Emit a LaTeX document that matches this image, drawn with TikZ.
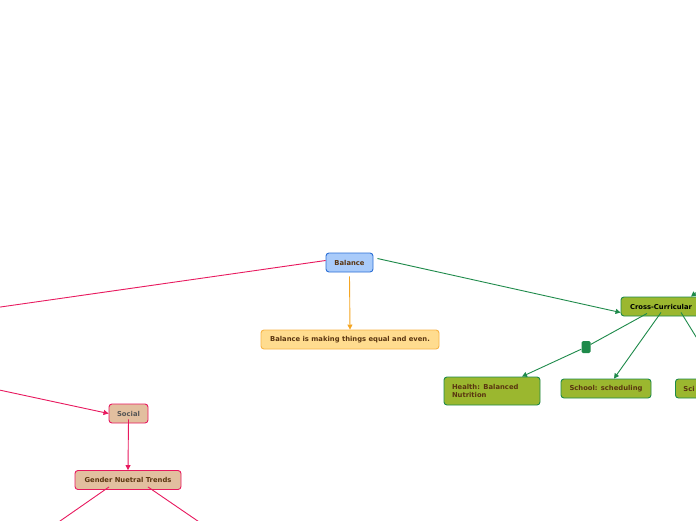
\documentclass[tikz,border=0pt]{standalone}
\usepackage{fontspec}
\setmainfont{DejaVu Sans}
\usetikzlibrary{arrows.meta}
\definecolor{pinkl}{HTML}{E8195F}
\definecolor{greenl}{HTML}{1E8A4A}
\definecolor{orangel}{HTML}{F5A623}
\definecolor{bluefill}{HTML}{A9CBFA}
\definecolor{blueborder}{HTML}{2C6FD6}
\definecolor{yelfill}{HTML}{FFDC8F}
\definecolor{yelborder}{HTML}{F7B548}
\definecolor{olivefill}{HTML}{9BB72F}
\definecolor{tanfill}{HTML}{E2BF9F}
\definecolor{browntext}{HTML}{5A3510}
\definecolor{graytext}{HTML}{555555}
\tikzset{
  box/.style={draw, line width=0.9pt, rounded corners=3pt, inner sep=0pt,
    font=\fontsize{6.8}{8.5}\selectfont\bfseries, align=center},
  mainbox/.style={box, fill=bluefill, draw=blueborder, text=browntext},
  defbox/.style={box, fill=yelfill, draw=yelborder, text=browntext},
  crossbox/.style={box, fill=olivefill, draw=greenl, text=black},
  subbox/.style={box, fill=olivefill, draw=greenl, text=browntext},
  socbox/.style={box, fill=tanfill, draw=pinkl, text=graytext},
  genbox/.style={box, fill=tanfill, draw=pinkl, text=browntext},
  tip/.style={-{Triangle[length=5pt,width=5pt]}},
  pinkline/.style={draw=pinkl, line width=0.9pt},
  greenline/.style={draw=greenl, line width=0.9pt},
  orangeline/.style={draw=orangel, line width=0.9pt},
}
\begin{document}
\begin{tikzpicture}[x=1pt,y=-1pt]
\useasboundingbox (0,0) rectangle (696,520);
\clip (0,0) rectangle (696,520);
\fill[white] (0,0) rectangle (696,520);

\node[mainbox, minimum width=47pt, minimum height=19pt] (balance) at (349.5,262.5) {Balance};
\node[defbox, minimum width=178pt, minimum height=19pt] (def) at (350,339.5) {Balance is making things equal and even.};
\node[crossbox, minimum width=80pt, minimum height=19pt] (cross) at (661,306.5) {Cross-Curricular};
\node[subbox, minimum width=96pt, minimum height=28pt, align=left, text width=80pt] (health) at (492,391) {Health: Balanced\\Nutrition};
\node[subbox, minimum width=90pt, minimum height=19pt] (school) at (606,388.5) {School: scheduling};
\node[subbox, minimum width=30pt, minimum height=19pt, anchor=west, inner xsep=8pt, align=left, text width=14pt] (sci) at (675,388.5) {Sci};
\node[socbox, minimum width=39pt, minimum height=19pt] (social) at (128.5,413.5) {Social};
\node[genbox, minimum width=106pt, minimum height=19pt] (gender) at (128,480) {Gender Nuetral Trends};

\coordinate (offleft1) at (-10,308.5);
\coordinate (offleft2) at (-10,388);
\coordinate (offtr) at (706,285);
\coordinate (offsci) at (706,353);
\coordinate (offgl) at (50,528);
\coordinate (offgr) at (208,528);

\node[fill=greenl, rounded corners=1.5pt, minimum width=9pt, minimum height=12pt, inner sep=0pt] (mark) at (586,347) {};

\draw[pinkline] (balance.west) ++(0,-2) -- (offleft1);
\draw[pinkline, tip] (offleft2) -- (social.west);
\draw[orangeline, tip] (balance.south) ++(0,4) -- (def.north);
\draw[greenline, tip] ([xshift=4pt,yshift=4pt]balance.east) -- ([yshift=-6pt]cross.west);
\draw[greenline, tip] (offtr) -- ([xshift=30pt]cross.north);
\draw[greenline] ([xshift=-14pt,yshift=3pt]cross.south) -- (mark);
\draw[greenline, tip] (mark) -- ([xshift=30pt]health.north);
\draw[greenline, tip] ([yshift=4pt]cross.south) -- ([xshift=8pt]school.north);
\draw[greenline] ([xshift=20pt,yshift=4pt]cross.south) -- (offsci);
\draw[pinkline, tip] ([yshift=4pt]social.south) -- (gender.north);
\draw[pinkline] ([xshift=-19pt,yshift=3pt]gender.south) -- (offgl);
\draw[pinkline] ([xshift=20pt,yshift=3pt]gender.south) -- (offgr);
\end{tikzpicture}
\end{document}
